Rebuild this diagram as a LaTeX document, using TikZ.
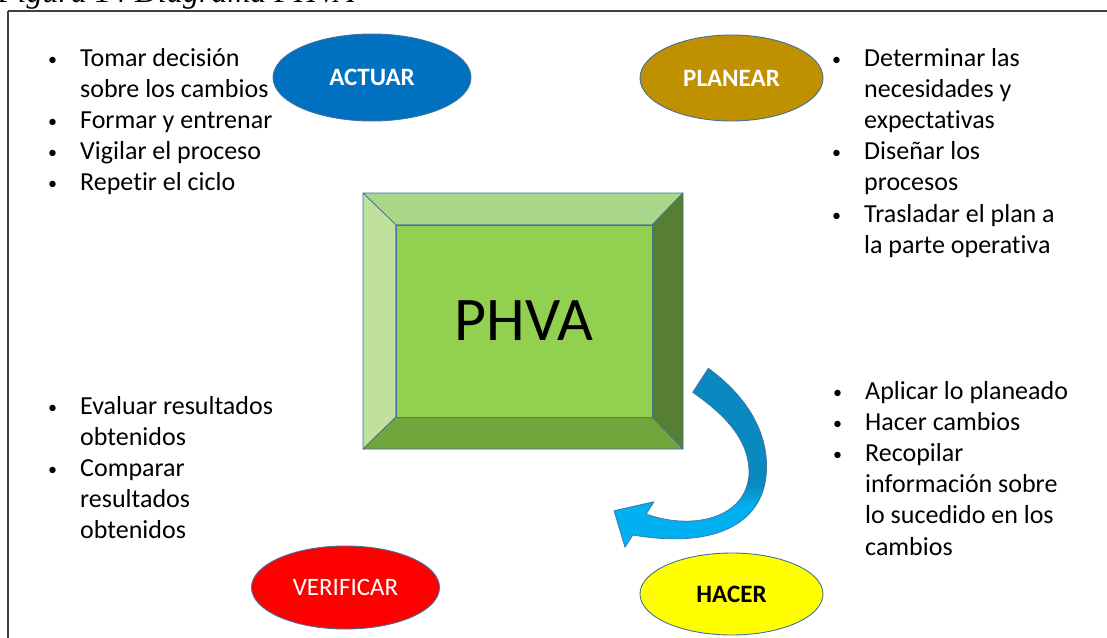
\documentclass[tikz,border=0pt]{standalone}
\usepackage{fontspec}
\setmainfont{Carlito}[Ligatures={NoCommon,NoContextual}]
\newfontfamily\capfont{Liberation Serif}
\usetikzlibrary{shapes.geometric}
\definecolor{edgeblue}{HTML}{41719C}
\definecolor{framegray}{HTML}{404040}
\definecolor{actblue}{HTML}{0070C0}
\definecolor{plangold}{HTML}{BF9000}
\definecolor{haceryellow}{HTML}{FFFF00}
\definecolor{verred}{HTML}{FF0000}
\definecolor{gcenter}{HTML}{92D050}
\definecolor{gtop}{HTML}{A9D78A}
\definecolor{gleft}{HTML}{C0E19B}
\definecolor{gright}{HTML}{567F33}
\definecolor{gbottom}{HTML}{71A63D}
\definecolor{arrowD}{HTML}{0A89C0}
\definecolor{arrowL}{HTML}{00B0F0}
\pgfdeclareverticalshading{arrowshade}{100bp}{color(0bp)=(arrowL); color(37bp)=(arrowL); color(43bp)=(arrowD); color(100bp)=(arrowD)}
\newcommand{\itm}[1]{\makebox[32pt][l]{\raisebox{1pt}{\fontsize{18}{20}\selectfont•}}#1}
\newcommand{\cnt}[1]{\hspace*{32pt}#1}
\tikzset{
  oval/.style={ellipse, draw=edgeblue, line width=0.9pt, inner sep=0pt},
  lblb/.style={font=\bfseries\fontsize{25}{29}\selectfont},
  lblr/.style={font=\fontsize{25}{29}\selectfont},
  blk/.style={anchor=base west, inner sep=0pt, font=\fontsize{26}{31.2}\selectfont},
  face/.style={draw=edgeblue, line width=0.7pt, line join=round},
}
\begin{document}
\begin{tikzpicture}[x=1pt,y=-1pt]
\useasboundingbox (0,0) rectangle (1107,637);
% caption (cut at top, as in the reference)
\node[anchor=base west, inner sep=0pt, font=\capfont\itshape\fontsize{32}{38}\selectfont] (cap) at (-2,2.5) {Figura 14 Diagrama PHVA};
% frame
\draw[framegray, line width=1.5pt] (8,11) -- (1130,11);
\draw[framegray, line width=1.5pt] (8,11) -- (8,660);
% bevel box
\coordinate (o1) at (363,193);
\coordinate (o2) at (683,193);
\coordinate (o3) at (683,449);
\coordinate (o4) at (363,449);
\node[draw=edgeblue, line width=0.7pt, fill=gcenter, minimum width=256pt, minimum height=192pt, inner sep=0pt, font=\fontsize{62}{64}\selectfont] (phva) at (524,321) {PHVA};
\filldraw[face, fill=gtop] (o1) -- (o2) -- (phva.north east) -- (phva.north west) -- cycle;
\filldraw[face, fill=gleft] (o1) -- (phva.north west) -- (phva.south west) -- (o4) -- cycle;
\filldraw[face, fill=gright] (o2) -- (o3) -- (phva.south east) -- (phva.north east) -- cycle;
\filldraw[face, fill=gbottom] (o4) -- (phva.south west) -- (phva.south east) -- (o3) -- cycle;
% curved arrow
\shadedraw[shading=arrowshade, draw=edgeblue, line width=0.7pt, line join=round]
  (708.3,368.3) .. controls (745,395) and (768,430) .. (766.5,470)
  .. controls (765,520) and (720,550) .. (632.8,535)
  -- (625,547.3) -- (614,510.7) -- (654,501.7) -- (646.2,514)
  .. controls (690,530) and (745,520) .. (749,475)
  .. controls (750,440) and (725,415) .. (692.7,392.3) -- cycle;
% ellipses
\node[oval, fill=actblue, minimum width=198pt, minimum height=87pt, lblb, text=white] (actuar) at (372,77.5) {ACTUAR};
\node[oval, fill=plangold, minimum width=183pt, minimum height=86pt, lblb, text=white] (planear) at (731.5,78) {PLANEAR};
\node[oval, fill=haceryellow, minimum width=183pt, minimum height=82pt, lblb, text=black] (hacer) at (731.5,594) {HACER};
\node[oval, fill=verred, minimum width=188pt, minimum height=83pt, lblr, text=white] (verificar) at (345.5,587.5) {VERIFICAR};
% text blocks
\node[blk] (actTxt) at (48,66) {\begin{tabular}[t]{@{}l@{}}
\itm{Tomar decisión}\\
\cnt{sobre los cambios}\\
\itm{Formar y entrenar}\\
\itm{Vigilar el proceso}\\
\itm{Repetir el ciclo}
\end{tabular}};
\node[blk] (planTxt) at (832,66) {\begin{tabular}[t]{@{}l@{}}
\itm{Determinar las}\\
\cnt{necesidades y}\\
\cnt{expectativas}\\
\itm{Diseñar los}\\
\cnt{procesos}\\
\itm{Trasladar el plan a}\\
\cnt{la parte operativa}
\end{tabular}};
\node[blk] (hacTxt) at (833,399) {\begin{tabular}[t]{@{}l@{}}
\itm{Aplicar lo planeado}\\
\itm{Hacer cambios}\\
\itm{Recopilar}\\
\cnt{información sobre}\\
\cnt{lo sucedido en los}\\
\cnt{cambios}
\end{tabular}};
\node[blk] (verTxt) at (48,414) {\begin{tabular}[t]{@{}l@{}}
\itm{Evaluar resultados}\\
\cnt{obtenidos}\\
\itm{Comparar}\\
\cnt{resultados}\\
\cnt{obtenidos}
\end{tabular}};
\end{tikzpicture}
\end{document}
